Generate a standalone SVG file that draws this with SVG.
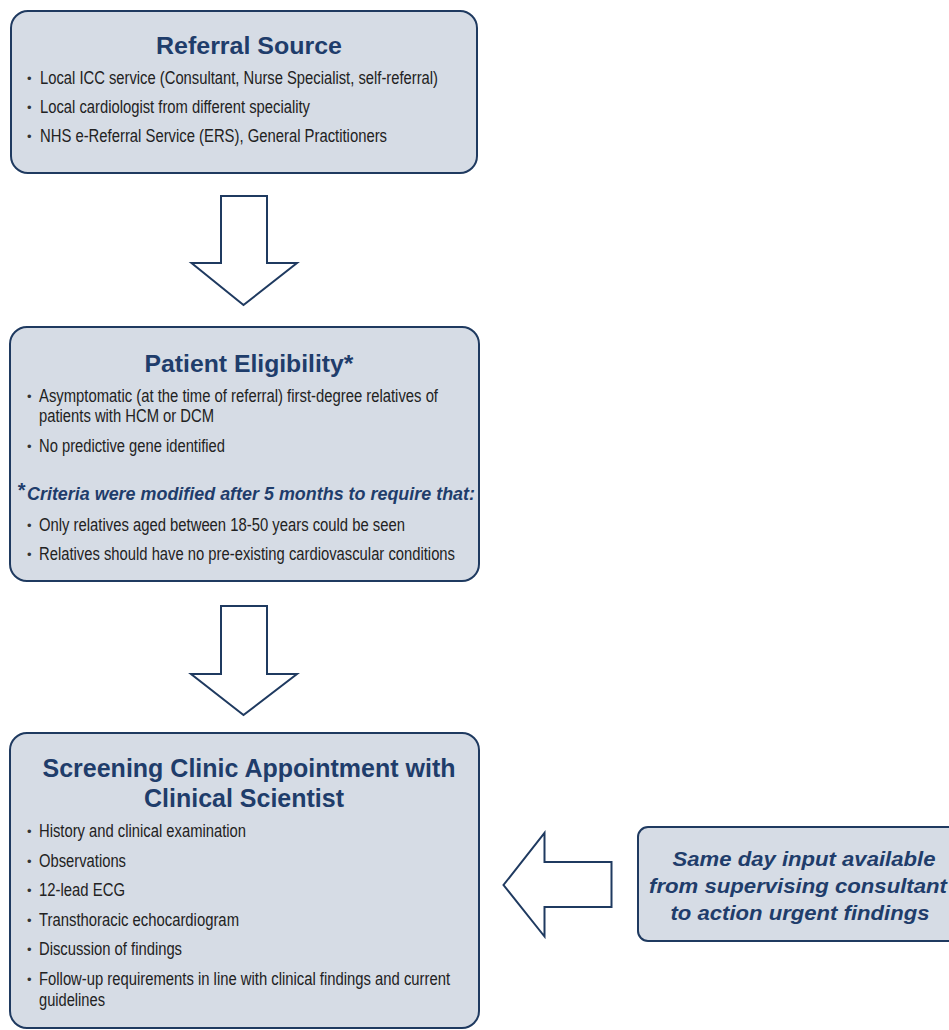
<svg xmlns="http://www.w3.org/2000/svg" width="949" height="1030" viewBox="0 0 949 1030">
<style>
.box{fill:#D6DCE5;stroke:#1F3A60;stroke-width:2}
.arrow{fill:#FFFFFF;stroke:#1F3A60;stroke-width:2;stroke-linejoin:miter}
.title{font-family:"Liberation Sans",Arial,sans-serif;font-weight:bold;fill:#1F3D6B;text-anchor:middle}
.body{font-family:"Liberation Sans",Arial,sans-serif;font-size:17.5px;fill:#222222}
.bul{font-family:"Liberation Sans",Arial,sans-serif;font-size:13px;fill:#333333}
.note{font-family:"Liberation Sans",Arial,sans-serif;font-weight:bold;font-style:italic;fill:#1F3D6B}
</style>
<rect width="949" height="1030" fill="#FFFFFF"/>
<g id="referral-source">
<rect class="box" x="11" y="11" width="466" height="162" rx="17"/>
<text class="title" x="249" y="54" font-size="24" textLength="186" lengthAdjust="spacingAndGlyphs">Referral Source</text>
<text class="bul" x="27" y="83">•</text>
<text class="body" x="40" y="84" textLength="398" lengthAdjust="spacingAndGlyphs">Local ICC service (Consultant, Nurse Specialist, self-referral)</text>
<text class="bul" x="27" y="112">•</text>
<text class="body" x="40" y="113" textLength="270" lengthAdjust="spacingAndGlyphs">Local cardiologist from different speciality</text>
<text class="bul" x="27" y="141">•</text>
<text class="body" x="40" y="142" textLength="347" lengthAdjust="spacingAndGlyphs">NHS e-Referral Service (ERS), General Practitioners</text>
</g>
<g id="patient-eligibility">
<rect class="box" x="10" y="327" width="469" height="254" rx="17"/>
<text class="title" x="249" y="372" font-size="24" textLength="209" lengthAdjust="spacingAndGlyphs">Patient Eligibility*</text>
<text class="bul" x="27" y="401">•</text>
<text class="body" x="39" y="402" textLength="399" lengthAdjust="spacingAndGlyphs">Asymptomatic (at the time of referral) first-degree relatives of</text>
<text class="body" x="39" y="422" textLength="175" lengthAdjust="spacingAndGlyphs">patients with HCM or DCM</text>
<text class="bul" x="27" y="451">•</text>
<text class="body" x="39" y="452" textLength="186" lengthAdjust="spacingAndGlyphs">No predictive gene identified</text>
<text class="note" x="17" y="497" font-size="20">*</text>
<text class="note" x="27" y="500" font-size="18.5" textLength="448" lengthAdjust="spacingAndGlyphs">Criteria were modified after 5 months to require that:</text>
<text class="bul" x="27" y="530">•</text>
<text class="body" x="39" y="531" textLength="366" lengthAdjust="spacingAndGlyphs">Only relatives aged between 18-50 years could be seen</text>
<text class="bul" x="27" y="559">•</text>
<text class="body" x="39" y="560" textLength="416" lengthAdjust="spacingAndGlyphs">Relatives should have no pre-existing cardiovascular conditions</text>
</g>
<g id="screening-clinic">
<rect class="box" x="10" y="733" width="469" height="295" rx="17"/>
<text class="title" x="249" y="777" font-size="25" textLength="413" lengthAdjust="spacingAndGlyphs">Screening Clinic Appointment with</text>
<text class="title" x="244" y="807" font-size="25" textLength="200" lengthAdjust="spacingAndGlyphs">Clinical Scientist</text>
<text class="bul" x="27" y="836">•</text>
<text class="body" x="39" y="837" textLength="207" lengthAdjust="spacingAndGlyphs">History and clinical examination</text>
<text class="bul" x="27" y="866">•</text>
<text class="body" x="39" y="867" textLength="87" lengthAdjust="spacingAndGlyphs">Observations</text>
<text class="bul" x="27" y="895">•</text>
<text class="body" x="39" y="896" textLength="86" lengthAdjust="spacingAndGlyphs">12-lead ECG</text>
<text class="bul" x="27" y="925">•</text>
<text class="body" x="39" y="926" textLength="200" lengthAdjust="spacingAndGlyphs">Transthoracic echocardiogram</text>
<text class="bul" x="27" y="954">•</text>
<text class="body" x="39" y="955" textLength="143" lengthAdjust="spacingAndGlyphs">Discussion of findings</text>
<text class="bul" x="27" y="984">•</text>
<text class="body" x="39" y="985" textLength="411" lengthAdjust="spacingAndGlyphs">Follow-up requirements in line with clinical findings and current</text>
<text class="body" x="39" y="1006" textLength="66" lengthAdjust="spacingAndGlyphs">guidelines</text>
</g>
<g id="consultant-input">
<rect class="box" x="638" y="827" width="330" height="114" rx="10"/>
<text class="note" x="804" y="866" font-size="21" text-anchor="middle" textLength="263" lengthAdjust="spacingAndGlyphs">Same day input available</text>
<text class="note" x="798" y="893" font-size="21" text-anchor="middle" textLength="298" lengthAdjust="spacingAndGlyphs">from supervising consultant</text>
<text class="note" x="800" y="920" font-size="21" text-anchor="middle" textLength="259" lengthAdjust="spacingAndGlyphs">to action urgent findings</text>
</g>
<g id="connectors">
<path class="arrow" d="M221 196 L267 196 L267 263 L297 263 L243.5 305 L191.5 263 L221 263 Z"/>
<path class="arrow" d="M221 606 L267 606 L267 674 L297 674 L243.5 715 L191 674 L221 674 Z"/>
<path class="arrow" d="M611.5 862 L611.5 907 L544.5 907 L544.5 936.5 L503.5 885 L544.5 833 L544.5 862 Z"/>
</g>
</svg>
